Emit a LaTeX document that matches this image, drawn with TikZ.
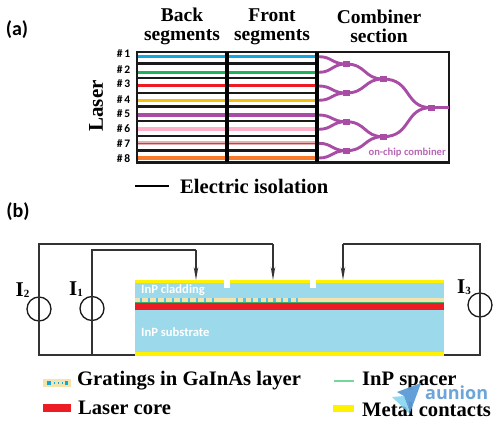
\documentclass[tikz,border=0pt]{standalone}
\usepackage{fontspec}
\setmainfont{Liberation Serif}
\newfontfamily\carl{Carlito}
\newfontfamily\headfont{Open Sans}
\usetikzlibrary{arrows.meta,calc}
\definecolor{cblue}{HTML}{12A5E0}
\definecolor{cgreen}{HTML}{1FB25A}
\definecolor{cred}{HTML}{ED1C24}
\definecolor{cyel}{HTML}{F2C010}
\definecolor{cpur}{HTML}{A94CA6}
\definecolor{cpink}{HTML}{FFAEC9}
\definecolor{crose}{HTML}{E8B0AE}
\definecolor{corg}{HTML}{F97A2B}
\definecolor{sub}{HTML}{9CD9EA}
\definecolor{cream}{HTML}{F5E3AE}
\definecolor{metal}{HTML}{FFF200}
\definecolor{spacer}{HTML}{3FAE6A}
\definecolor{spacerl}{HTML}{74D69A}
\definecolor{wm}{HTML}{5B9BD5}
\definecolor{wml}{HTML}{7FD3EE}
\tikzset{
 x=1pt,y=-1pt,
 title/.style={font=\bfseries\fontsize{19.5}{19}\selectfont,align=center,inner sep=0},
 legend/.style={font=\bfseries\fontsize{20.6}{20.6}\selectfont,anchor=west,inner sep=0},
 num/.style={font=\carl\bfseries\fontsize{11.5}{11.5}\selectfont,inner sep=0},
 panel/.style={font=\carl\bfseries\fontsize{20}{20}\selectfont,inner sep=0},
 seg/.style={line width=2.4pt,black!90},
 wire/.style={line width=1.4pt,black!80},
 src/.style={circle,draw=black!90,line width=1.3pt,minimum size=24pt,inner sep=0},
 wg/.style={line width=2.9pt,cpur},
 layer/.style={font=\carl\bfseries\fontsize{12.6}{12.6}\selectfont,text=white,anchor=west,inner sep=0},
 cur/.style={font=\bfseries\fontsize{21}{21}\selectfont,inner sep=0},
 tip/.style={-{Stealth[length=13pt,width=4.5pt]}},
}
\newcommand{\mergepad}[1]{\fill[cpur] ($(#1)+(-3.5,-3)$) rectangle ($(#1)+(3.5,3)$);}
\newcommand{\curlab}[1]{I{\fontsize{11}{11}\selectfont\raisebox{-1pt}{#1}}}
\begin{document}
\begin{tikzpicture}
\useasboundingbox (0,0) rectangle (500,422);
\node[panel] (pa) at (17,30) {(a)};
\node[panel] (pb) at (18,212) {(b)};
\node[title] (tb) at (182,26.5) {Back\\segments};
\node[title] (tf) at (272,26.5) {Front\\segments};
\node[title] (tc) at (379,26) {Combiner\\section};
\node[font=\bfseries\fontsize{21}{21}\selectfont,rotate=90,inner sep=0] (las) at (96,106) {Laser};
% rows
\foreach \n/\y/\c/\w/\ly in {1/56.7/cblue/3.2/54,2/72.3/cgreen/3.2/69.3,3/86/cred/3/84,4/100.3/cyel/3/99.3,5/115/cpur/3.4/114,6/129.3/cpink/4.4/129,7/143.3/crose/4/143.7,8/158/corg/4.2/158.7}{
  \draw[\c,line width=\w pt] (137,\y) -- (317,\y);
  \node[num] (n\n) at (123.5,\ly) {\#\,\n};
}
\draw[cred!60!gray,line width=.6pt] (137,143.3) -- (317,143.3);
\foreach \y in {63.5,78,92.7,106.5,121,136,150.5}{
  \draw[seg,line width=2.2pt] (137,\y) -- (317,\y);
}
\draw[seg] (137,52) rectangle (449,162.5);
\draw[line width=3.8pt,black] (227,52) -- (227,162.5);
\draw[line width=3.8pt,black] (317,52) -- (317,162.5);
% combiner
\coordinate (m1) at (346,64);
\coordinate (m2) at (346,93);
\coordinate (m3) at (346,121.7);
\coordinate (m4) at (346,150.7);
\coordinate (k1) at (383,79);
\coordinate (k2) at (383,136.7);
\coordinate (f) at (431,107.7);
\coordinate (out) at (449,107.7);
\foreach \a/\b/\c in {56.7/m1/64,72.3/m1/64,86/m2/93,100.3/m2/93,115/m3/121.7,129.3/m3/121.7,143.3/m4/150.7,158/m4/150.7}{
  \draw[wg] (319,\a) .. controls (332,\a) and (332,\c) .. (\b);
}
\draw[wg] (m1) .. controls (366,64) and (364,79) .. (k1);
\draw[wg] (m2) .. controls (366,93) and (364,79) .. (k1);
\draw[wg] (m3) .. controls (366,121.7) and (364,136.7) .. (k2);
\draw[wg] (m4) .. controls (366,150.7) and (364,136.7) .. (k2);
\draw[wg] (k1) .. controls (412,79) and (404,107.7) .. (f);
\draw[wg] (k2) .. controls (412,136.7) and (404,107.7) .. (f);
\draw[wg] (f) -- (out);
\foreach \m in {m1,m2,m3,m4,k1,k2,f}{\mergepad{\m}}
\node[font=\carl\bfseries\fontsize{10.6}{10.6}\selectfont,text=cpur!85,anchor=east,inner sep=0] (occ) at (446,152.6) {on-chip combiner};
% isolation legend
\coordinate (iso1) at (135,186);
\coordinate (iso2) at (169,186);
\draw[line width=1.8pt,black] (iso1) -- (iso2);
\node[legend] (isol) at (180,186) {Electric isolation};
% device
\fill[sub] (135,283) rectangle (444,352);
\fill[metal] (135,280) rectangle (444,283);
\fill[metal] (135,351.5) rectangle (444,356);
\fill[white] (224,280) rectangle (230,288);
\fill[white] (310,280) rectangle (316,288);
\fill[cream] (135,297.5) rectangle (444,302);
\fill[spacer] (135,302) rectangle (444,303.2);
\fill[cred] (135,303.2) rectangle (444,309.5);
\foreach \x in {141,149,157,165,173,181,189,197,205,213}{\fill[cblue!70] (\x-1.2,297.5) rectangle (\x+1.2,302);}
\foreach \x in {237,244.5,252,259.5,267,274.5,282,289.5,297}{\fill[cblue!70] (\x-1.2,297.5) rectangle (\x+1.2,302);}
\node[layer] (lc) at (141,290.5) {InP cladding};
\node[layer] (ls) at (141,332) {InP substrate};
% circuit
\node[src] (s2) at (39,309) {};
\node[src] (s1) at (92,308.5) {};
\node[src] (s3) at (480,305) {};
\coordinate (cB) at (135,355);
\coordinate (cBr) at (444,355);
\coordinate (t1) at (196,280);
\coordinate (t2) at (273,280);
\coordinate (t3) at (343,280);
\draw[wire] (s2.center) -- (39,244) -- (273,244);
\draw[wire,tip] (273,244) -- (t2);
\draw[wire] (s1.center) -- (92,250) -- (196,250);
\draw[wire,tip] (196,250) -- (t1);
\draw[wire] (s3.center) -- (480,244) -- (343,244);
\draw[wire,tip] (343,244) -- (t3);
\draw[wire] (s2.center) -- (39,355) -- (cB);
\draw[wire] (s1.center) -- (92,355);
\draw[wire] (s3.center) -- (480,355) -- (cBr);
\node[cur] (i2) at (22.5,290) {\curlab{2}};
\node[cur] (i1) at (76,289) {\curlab{1}};
\node[cur] (i3) at (464,287) {\curlab{3}};
% legend
\fill[cream] (43,379) rectangle (71,387);
\fill[cblue] (47,381) rectangle (51,385);
\foreach \x in {54,58,62}{\fill[cblue] (\x,381.5) rectangle (\x+1.2,384);}
\fill[cblue] (64.5,381) rectangle (68,385);
\node[legend] (lg) at (77,381) {Gratings in GaInAs layer};
\fill[cred] (43,404) rectangle (71,412);
\node[legend] (ll) at (78,408) {Laser core};
\coordinate (sp1) at (334,381);
\coordinate (sp2) at (354,381);
\draw[line width=1.4pt,spacerl] (sp1) -- (sp2);
\node[legend] (lsp) at (362,381) {InP spacer};
\fill[metal] (333,405) rectangle (354,412);
\node[legend] (lm) at (362,409) {Metal contacts};
% watermark
\fill[wml,opacity=.85] (392,397) -- (404,396) -- (410,414) -- cycle;
\fill[wm,opacity=.95] (397,392) -- (421,383) -- (410,413) -- (404,396) -- cycle;
\node[font=\headfont\bfseries\fontsize{18}{18}\selectfont,text=wm,anchor=west,inner sep=0,opacity=.9] (wmk) at (425,393) {aunion};
\end{tikzpicture}
\end{document}
